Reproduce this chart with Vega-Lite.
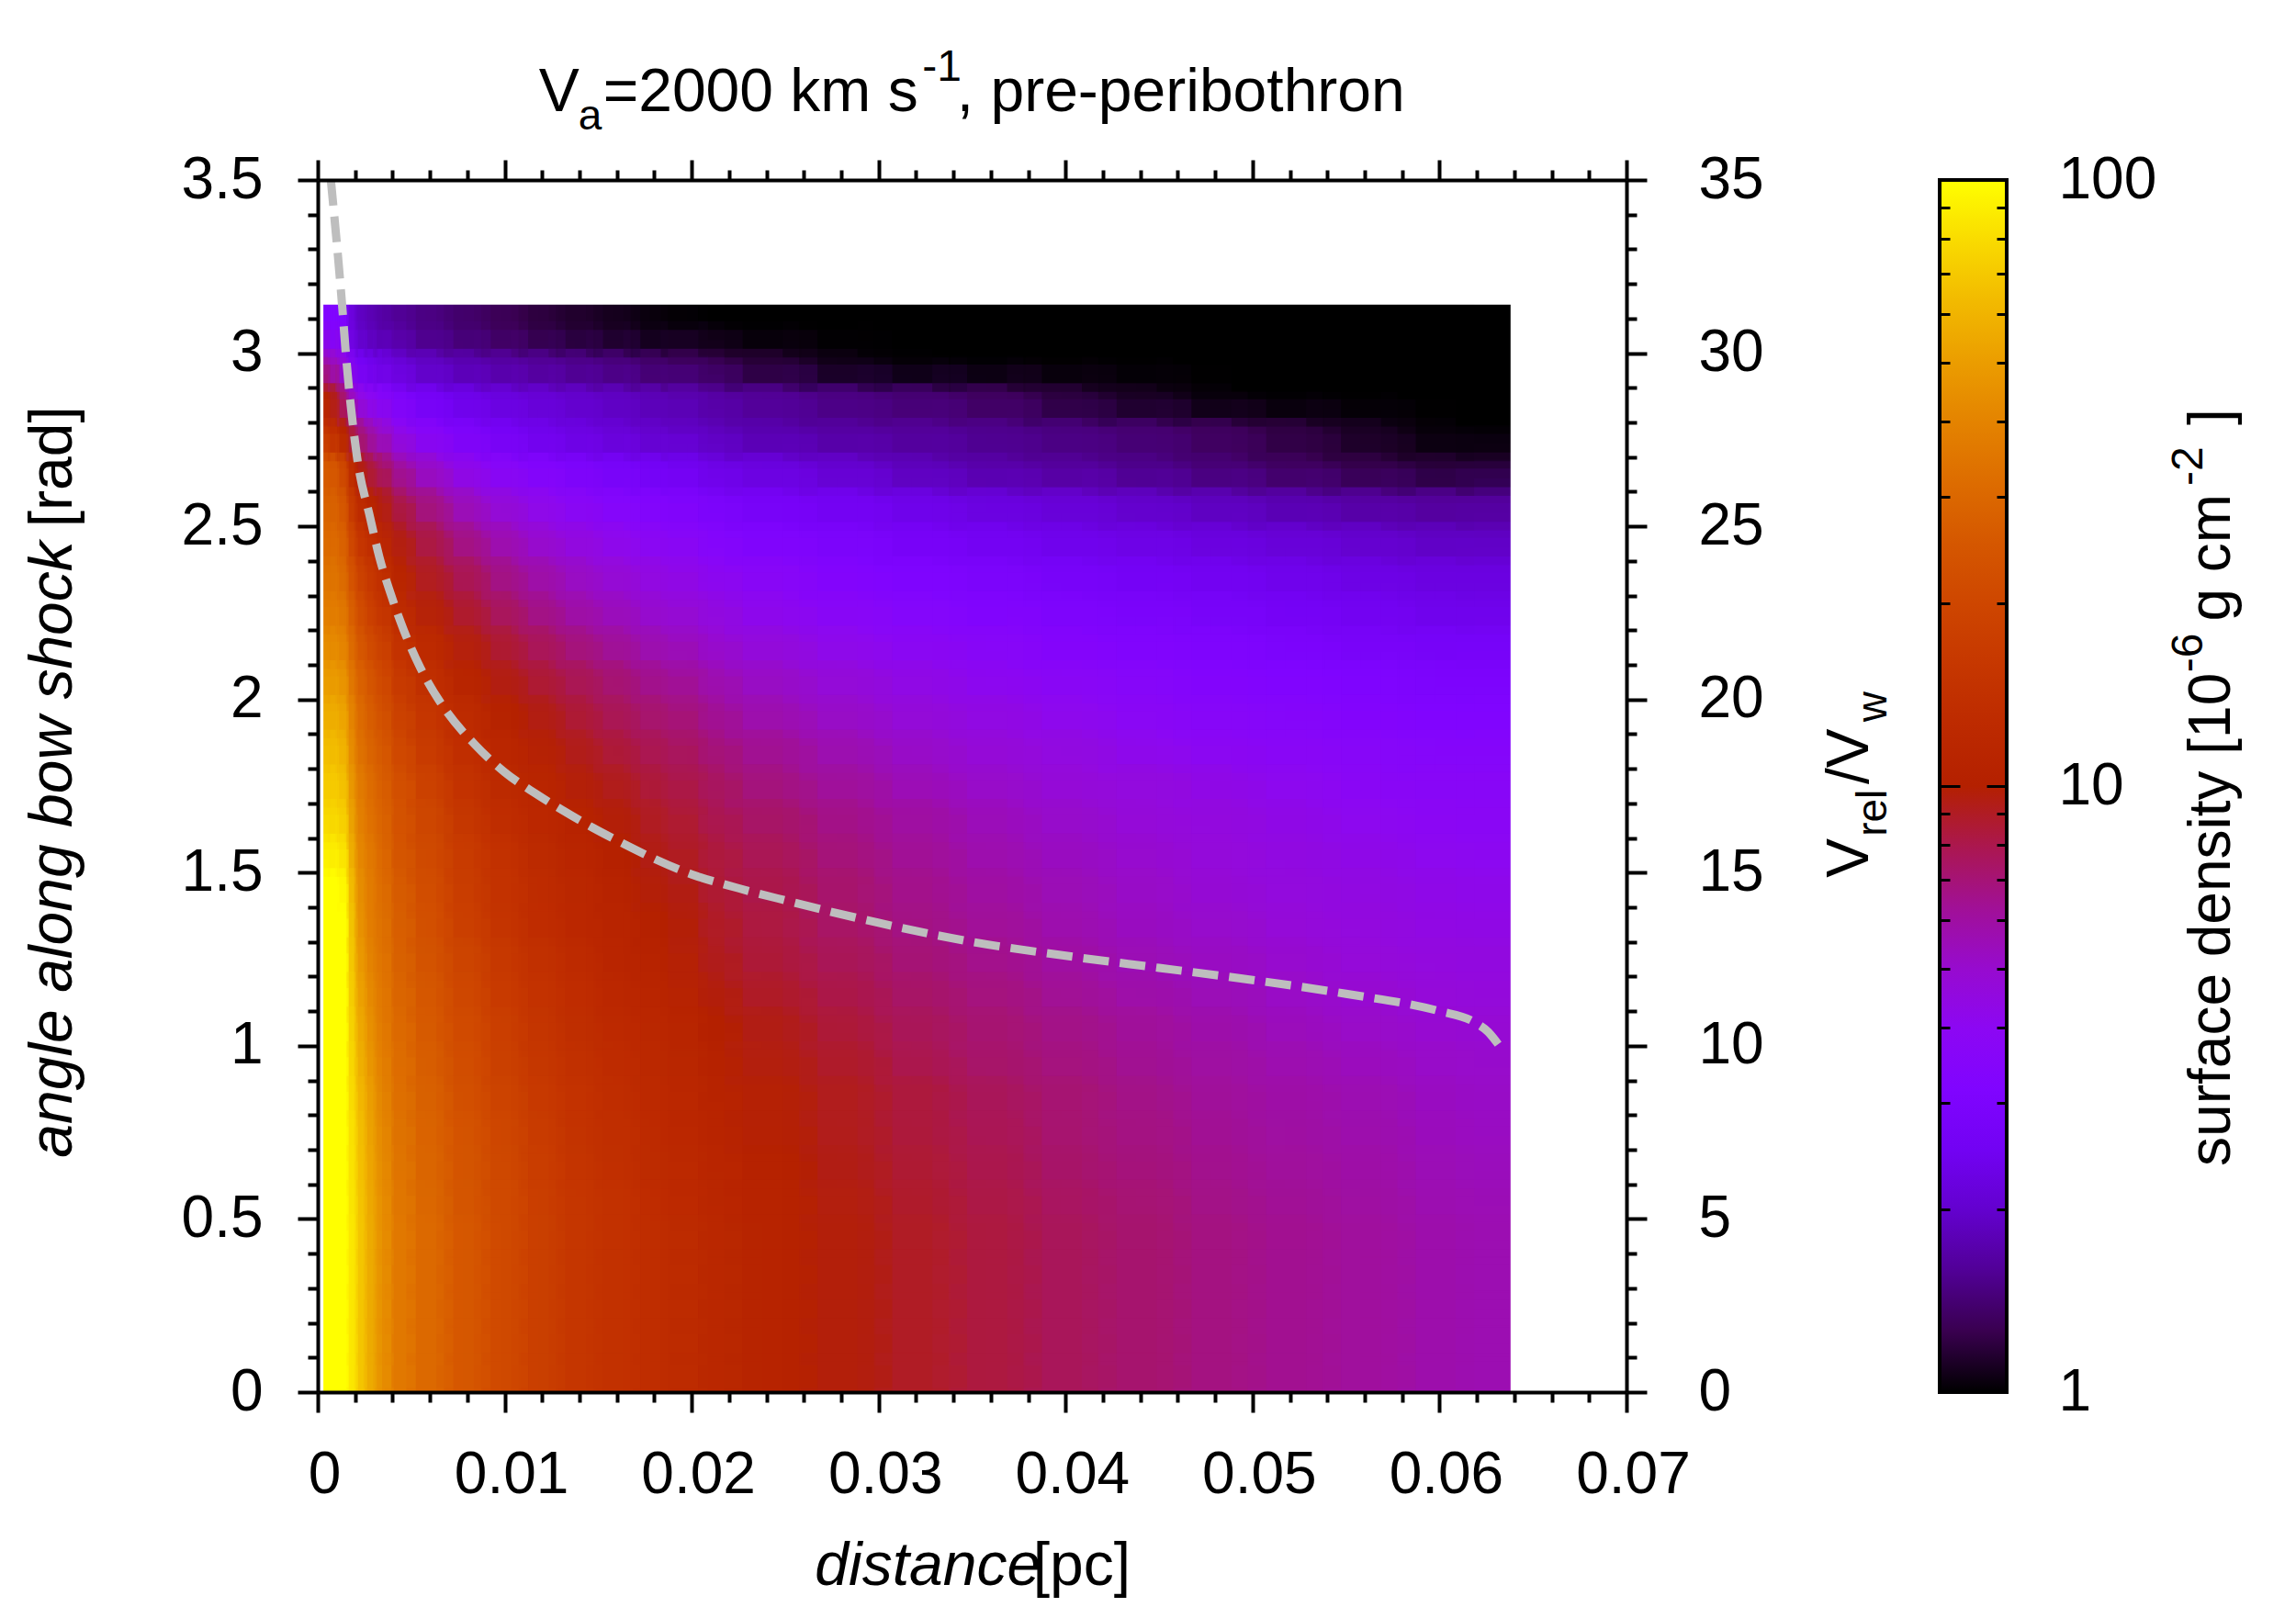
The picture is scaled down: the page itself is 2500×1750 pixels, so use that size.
{"$schema":"https://vega.github.io/schema/vega-lite/v6.json","background":"white","padding":{"left":24,"top":50,"right":0,"bottom":0},
"config":{"view":{"stroke":null},"axis":{"grid":false,"labelFont":"Liberation Sans","labelFontSize":64,"labelColor":"black","tickColor":"black","domainColor":"black","tickWidth":4,"domainWidth":4,"labelOverlap":false,"labelFlush":false,"labelBound":false,"title":null},"text":{"font":"Liberation Sans","fontSize":64,"color":"black","align":"left","baseline":"alphabetic"}},
"datasets":{
"fine":[
{"d":0.00055,"a":0,"s":2},{"d":0.00105,"a":0,"s":2},{"d":0.00155,"a":0,"s":2},{"d":0.00205,"a":0,"s":1.9},{"d":0.00255,"a":0,"s":1.8},{"d":0.00305,"a":0,"s":1.72},{"d":0.00355,"a":0,"s":1.65},
{"d":0.00055,"a":0.09,"s":2},{"d":0.00105,"a":0.09,"s":2},{"d":0.00155,"a":0.09,"s":2},{"d":0.00205,"a":0.09,"s":1.9},{"d":0.00255,"a":0.09,"s":1.8},{"d":0.00305,"a":0.09,"s":1.72},{"d":0.00355,"a":0.09,"s":1.65},
{"d":0.00055,"a":0.19,"s":2},{"d":0.00105,"a":0.19,"s":2},{"d":0.00155,"a":0.19,"s":2},{"d":0.00205,"a":0.19,"s":1.9},{"d":0.00255,"a":0.19,"s":1.8},{"d":0.00305,"a":0.19,"s":1.72},{"d":0.00355,"a":0.19,"s":1.65},
{"d":0.00055,"a":0.29,"s":2},{"d":0.00105,"a":0.29,"s":2},{"d":0.00155,"a":0.29,"s":2},{"d":0.00205,"a":0.29,"s":1.9},{"d":0.00255,"a":0.29,"s":1.8},{"d":0.00305,"a":0.29,"s":1.72},{"d":0.00355,"a":0.29,"s":1.65},
{"d":0.00055,"a":0.39,"s":2},{"d":0.00105,"a":0.39,"s":2},{"d":0.00155,"a":0.39,"s":2},{"d":0.00205,"a":0.39,"s":1.9},{"d":0.00255,"a":0.39,"s":1.8},{"d":0.00305,"a":0.39,"s":1.72},{"d":0.00355,"a":0.39,"s":1.65},
{"d":0.00055,"a":0.49,"s":2},{"d":0.00105,"a":0.49,"s":2},{"d":0.00155,"a":0.49,"s":2},{"d":0.00205,"a":0.49,"s":1.9},{"d":0.00255,"a":0.49,"s":1.8},{"d":0.00305,"a":0.49,"s":1.72},{"d":0.00355,"a":0.49,"s":1.65},
{"d":0.00055,"a":0.59,"s":2},{"d":0.00105,"a":0.59,"s":2},{"d":0.00155,"a":0.59,"s":2},{"d":0.00205,"a":0.59,"s":1.89},{"d":0.00255,"a":0.59,"s":1.79},{"d":0.00305,"a":0.59,"s":1.71},{"d":0.00355,"a":0.59,"s":1.64},
{"d":0.00055,"a":0.69,"s":2},{"d":0.00105,"a":0.69,"s":2},{"d":0.00155,"a":0.69,"s":2},{"d":0.00205,"a":0.69,"s":1.88},{"d":0.00255,"a":0.69,"s":1.78},{"d":0.00305,"a":0.69,"s":1.7},{"d":0.00355,"a":0.69,"s":1.63},
{"d":0.00055,"a":0.79,"s":2},{"d":0.00105,"a":0.79,"s":2},{"d":0.00155,"a":0.79,"s":2},{"d":0.00205,"a":0.79,"s":1.87},{"d":0.00255,"a":0.79,"s":1.77},{"d":0.00305,"a":0.79,"s":1.69},{"d":0.00355,"a":0.79,"s":1.62},
{"d":0.00055,"a":0.89,"s":2},{"d":0.00105,"a":0.89,"s":2},{"d":0.00155,"a":0.89,"s":2},{"d":0.00205,"a":0.89,"s":1.84},{"d":0.00255,"a":0.89,"s":1.75},{"d":0.00305,"a":0.89,"s":1.67},{"d":0.00355,"a":0.89,"s":1.6},
{"d":0.00055,"a":0.99,"s":2},{"d":0.00105,"a":0.99,"s":2},{"d":0.00155,"a":0.99,"s":2},{"d":0.00205,"a":0.99,"s":1.82},{"d":0.00255,"a":0.99,"s":1.72},{"d":0.00305,"a":0.99,"s":1.64},{"d":0.00355,"a":0.99,"s":1.58},
{"d":0.00055,"a":1.09,"s":2},{"d":0.00105,"a":1.09,"s":2},{"d":0.00155,"a":1.09,"s":2},{"d":0.00205,"a":1.09,"s":1.8},{"d":0.00255,"a":1.09,"s":1.7},{"d":0.00305,"a":1.09,"s":1.62},{"d":0.00355,"a":1.09,"s":1.56},
{"d":0.00055,"a":1.19,"s":2},{"d":0.00105,"a":1.19,"s":2},{"d":0.00155,"a":1.19,"s":2},{"d":0.00205,"a":1.19,"s":1.77},{"d":0.00255,"a":1.19,"s":1.67},{"d":0.00305,"a":1.19,"s":1.59},{"d":0.00355,"a":1.19,"s":1.55},
{"d":0.00055,"a":1.29,"s":2},{"d":0.00105,"a":1.29,"s":2},{"d":0.00155,"a":1.29,"s":2},{"d":0.00205,"a":1.29,"s":1.74},{"d":0.00255,"a":1.29,"s":1.64},{"d":0.00305,"a":1.29,"s":1.57},{"d":0.00355,"a":1.29,"s":1.53},
{"d":0.00055,"a":1.39,"s":2},{"d":0.00105,"a":1.39,"s":2},{"d":0.00155,"a":1.39,"s":2},{"d":0.00205,"a":1.39,"s":1.72},{"d":0.00255,"a":1.39,"s":1.61},{"d":0.00305,"a":1.39,"s":1.55},{"d":0.00355,"a":1.39,"s":1.52},
{"d":0.00055,"a":1.49,"s":2},{"d":0.00105,"a":1.49,"s":2},{"d":0.00155,"a":1.49,"s":1.96},{"d":0.00205,"a":1.49,"s":1.7},{"d":0.00255,"a":1.49,"s":1.6},{"d":0.00305,"a":1.49,"s":1.55},{"d":0.00355,"a":1.49,"s":1.5},
{"d":0.00055,"a":1.59,"s":1.94},{"d":0.00105,"a":1.59,"s":1.94},{"d":0.00155,"a":1.59,"s":1.9},{"d":0.00205,"a":1.59,"s":1.66},{"d":0.00255,"a":1.59,"s":1.58},{"d":0.00305,"a":1.59,"s":1.53},{"d":0.00355,"a":1.59,"s":1.48},
{"d":0.00055,"a":1.69,"s":1.88},{"d":0.00105,"a":1.69,"s":1.88},{"d":0.00155,"a":1.69,"s":1.84},{"d":0.00205,"a":1.69,"s":1.63},{"d":0.00255,"a":1.69,"s":1.55},{"d":0.00305,"a":1.69,"s":1.5},{"d":0.00355,"a":1.69,"s":1.46},
{"d":0.00055,"a":1.79,"s":1.84},{"d":0.00105,"a":1.79,"s":1.84},{"d":0.00155,"a":1.79,"s":1.8},{"d":0.00205,"a":1.79,"s":1.6},{"d":0.00255,"a":1.79,"s":1.53},{"d":0.00305,"a":1.79,"s":1.48},{"d":0.00355,"a":1.79,"s":1.43},
{"d":0.00055,"a":1.89,"s":1.8},{"d":0.00105,"a":1.89,"s":1.8},{"d":0.00155,"a":1.89,"s":1.75},{"d":0.00205,"a":1.89,"s":1.56},{"d":0.00255,"a":1.89,"s":1.49},{"d":0.00305,"a":1.89,"s":1.44},{"d":0.00355,"a":1.89,"s":1.4},
{"d":0.00055,"a":1.99,"s":1.74},{"d":0.00105,"a":1.99,"s":1.74},{"d":0.00155,"a":1.99,"s":1.7},{"d":0.00205,"a":1.99,"s":1.53},{"d":0.00255,"a":1.99,"s":1.46},{"d":0.00305,"a":1.99,"s":1.4},{"d":0.00355,"a":1.99,"s":1.36},
{"d":0.00055,"a":2.09,"s":1.68},{"d":0.00105,"a":2.09,"s":1.68},{"d":0.00155,"a":2.09,"s":1.64},{"d":0.00205,"a":2.09,"s":1.48},{"d":0.00255,"a":2.09,"s":1.42},{"d":0.00305,"a":2.09,"s":1.36},{"d":0.00355,"a":2.09,"s":1.31},
{"d":0.00055,"a":2.19,"s":1.62},{"d":0.00105,"a":2.19,"s":1.62},{"d":0.00155,"a":2.19,"s":1.58},{"d":0.00205,"a":2.19,"s":1.43},{"d":0.00255,"a":2.19,"s":1.36},{"d":0.00305,"a":2.19,"s":1.3},{"d":0.00355,"a":2.19,"s":1.25},
{"d":0.00055,"a":2.29,"s":1.56},{"d":0.00105,"a":2.29,"s":1.56},{"d":0.00155,"a":2.29,"s":1.52},{"d":0.00205,"a":2.29,"s":1.37},{"d":0.00255,"a":2.29,"s":1.29},{"d":0.00305,"a":2.29,"s":1.22},{"d":0.00355,"a":2.29,"s":1.18},
{"d":0.00055,"a":2.39,"s":1.52},{"d":0.00105,"a":2.39,"s":1.52},{"d":0.00155,"a":2.39,"s":1.46},{"d":0.00205,"a":2.39,"s":1.31},{"d":0.00255,"a":2.39,"s":1.23},{"d":0.00305,"a":2.39,"s":1.17},{"d":0.00355,"a":2.39,"s":1.13},
{"d":0.00055,"a":2.49,"s":1.48},{"d":0.00105,"a":2.49,"s":1.48},{"d":0.00155,"a":2.49,"s":1.42},{"d":0.00205,"a":2.49,"s":1.22},{"d":0.00255,"a":2.49,"s":1.15},{"d":0.00305,"a":2.49,"s":1.1},{"d":0.00355,"a":2.49,"s":1.05},
{"d":0.00055,"a":2.59,"s":1.44},{"d":0.00105,"a":2.59,"s":1.44},{"d":0.00155,"a":2.59,"s":1.36},{"d":0.00205,"a":2.59,"s":1.13},{"d":0.00255,"a":2.59,"s":1.07},{"d":0.00305,"a":2.59,"s":1.02},{"d":0.00355,"a":2.59,"s":0.98},
{"d":0.00055,"a":2.69,"s":1.4},{"d":0.00105,"a":2.69,"s":1.38},{"d":0.00155,"a":2.69,"s":1.25},{"d":0.00205,"a":2.69,"s":1.02},{"d":0.00255,"a":2.69,"s":0.96},{"d":0.00305,"a":2.69,"s":0.9},{"d":0.00355,"a":2.69,"s":0.86},
{"d":0.00055,"a":2.79,"s":1.14},{"d":0.00105,"a":2.79,"s":1.1},{"d":0.00155,"a":2.79,"s":1},{"d":0.00205,"a":2.79,"s":0.87},{"d":0.00255,"a":2.79,"s":0.79},{"d":0.00305,"a":2.79,"s":0.73},{"d":0.00355,"a":2.79,"s":0.69},
{"d":0.00055,"a":2.89,"s":1},{"d":0.00105,"a":2.89,"s":0.95},{"d":0.00155,"a":2.89,"s":0.8},{"d":0.00205,"a":2.89,"s":0.66},{"d":0.00255,"a":2.89,"s":0.6},{"d":0.00305,"a":2.89,"s":0.56},{"d":0.00355,"a":2.89,"s":0.53},
{"d":0.00055,"a":2.99,"s":0.72},{"d":0.00105,"a":2.99,"s":0.7},{"d":0.00155,"a":2.99,"s":0.62},{"d":0.00205,"a":2.99,"s":0.44},{"d":0.00255,"a":2.99,"s":0.4},{"d":0.00305,"a":2.99,"s":0.37},{"d":0.00355,"a":2.99,"s":0.35},
{"d":0.00055,"a":3.09,"s":0.5},{"d":0.00105,"a":3.09,"s":0.5},{"d":0.00155,"a":3.09,"s":0.48},{"d":0.00205,"a":3.09,"s":0.3},{"d":0.00255,"a":3.09,"s":0.27},{"d":0.00305,"a":3.09,"s":0.25},{"d":0.00355,"a":3.09,"s":0.23}],
"mid":[
{"d":0.0048,"a":0,"s":1.55},{"d":0.0068,"a":0,"s":1.45},{"d":0.0088,"a":0,"s":1.37},{"d":0.0108,"a":0,"s":1.3},{"d":0.0128,"a":0,"s":1.23},{"d":0.0148,"a":0,"s":1.18},{"d":0.0168,"a":0,"s":1.15},{"d":0.0188,"a":0,"s":1.11},
{"d":0.0048,"a":0.09,"s":1.55},{"d":0.0068,"a":0.09,"s":1.45},{"d":0.0088,"a":0.09,"s":1.37},{"d":0.0108,"a":0.09,"s":1.3},{"d":0.0128,"a":0.09,"s":1.23},{"d":0.0148,"a":0.09,"s":1.18},{"d":0.0168,"a":0.09,"s":1.15},{"d":0.0188,"a":0.09,"s":1.11},
{"d":0.0048,"a":0.19,"s":1.55},{"d":0.0068,"a":0.19,"s":1.45},{"d":0.0088,"a":0.19,"s":1.37},{"d":0.0108,"a":0.19,"s":1.3},{"d":0.0128,"a":0.19,"s":1.23},{"d":0.0148,"a":0.19,"s":1.18},{"d":0.0168,"a":0.19,"s":1.15},{"d":0.0188,"a":0.19,"s":1.11},
{"d":0.0048,"a":0.29,"s":1.55},{"d":0.0068,"a":0.29,"s":1.45},{"d":0.0088,"a":0.29,"s":1.37},{"d":0.0108,"a":0.29,"s":1.3},{"d":0.0128,"a":0.29,"s":1.23},{"d":0.0148,"a":0.29,"s":1.18},{"d":0.0168,"a":0.29,"s":1.15},{"d":0.0188,"a":0.29,"s":1.11},
{"d":0.0048,"a":0.39,"s":1.55},{"d":0.0068,"a":0.39,"s":1.45},{"d":0.0088,"a":0.39,"s":1.37},{"d":0.0108,"a":0.39,"s":1.3},{"d":0.0128,"a":0.39,"s":1.23},{"d":0.0148,"a":0.39,"s":1.18},{"d":0.0168,"a":0.39,"s":1.15},{"d":0.0188,"a":0.39,"s":1.11},
{"d":0.0048,"a":0.49,"s":1.55},{"d":0.0068,"a":0.49,"s":1.45},{"d":0.0088,"a":0.49,"s":1.37},{"d":0.0108,"a":0.49,"s":1.3},{"d":0.0128,"a":0.49,"s":1.23},{"d":0.0148,"a":0.49,"s":1.18},{"d":0.0168,"a":0.49,"s":1.15},{"d":0.0188,"a":0.49,"s":1.11},
{"d":0.0048,"a":0.59,"s":1.54},{"d":0.0068,"a":0.59,"s":1.44},{"d":0.0088,"a":0.59,"s":1.36},{"d":0.0108,"a":0.59,"s":1.29},{"d":0.0128,"a":0.59,"s":1.22},{"d":0.0148,"a":0.59,"s":1.17},{"d":0.0168,"a":0.59,"s":1.14},{"d":0.0188,"a":0.59,"s":1.1},
{"d":0.0048,"a":0.69,"s":1.53},{"d":0.0068,"a":0.69,"s":1.43},{"d":0.0088,"a":0.69,"s":1.35},{"d":0.0108,"a":0.69,"s":1.28},{"d":0.0128,"a":0.69,"s":1.21},{"d":0.0148,"a":0.69,"s":1.16},{"d":0.0168,"a":0.69,"s":1.13},{"d":0.0188,"a":0.69,"s":1.09},
{"d":0.0048,"a":0.79,"s":1.52},{"d":0.0068,"a":0.79,"s":1.42},{"d":0.0088,"a":0.79,"s":1.34},{"d":0.0108,"a":0.79,"s":1.27},{"d":0.0128,"a":0.79,"s":1.2},{"d":0.0148,"a":0.79,"s":1.15},{"d":0.0168,"a":0.79,"s":1.12},{"d":0.0188,"a":0.79,"s":1.08},
{"d":0.0048,"a":0.89,"s":1.51},{"d":0.0068,"a":0.89,"s":1.41},{"d":0.0088,"a":0.89,"s":1.32},{"d":0.0108,"a":0.89,"s":1.25},{"d":0.0128,"a":0.89,"s":1.19},{"d":0.0148,"a":0.89,"s":1.15},{"d":0.0168,"a":0.89,"s":1.11},{"d":0.0188,"a":0.89,"s":1.08},
{"d":0.0048,"a":0.99,"s":1.5},{"d":0.0068,"a":0.99,"s":1.39},{"d":0.0088,"a":0.99,"s":1.31},{"d":0.0108,"a":0.99,"s":1.23},{"d":0.0128,"a":0.99,"s":1.18},{"d":0.0148,"a":0.99,"s":1.13},{"d":0.0168,"a":0.99,"s":1.1},{"d":0.0188,"a":0.99,"s":1.07},
{"d":0.0048,"a":1.09,"s":1.48},{"d":0.0068,"a":1.09,"s":1.37},{"d":0.0088,"a":1.09,"s":1.29},{"d":0.0108,"a":1.09,"s":1.21},{"d":0.0128,"a":1.09,"s":1.16},{"d":0.0148,"a":1.09,"s":1.11},{"d":0.0168,"a":1.09,"s":1.08},{"d":0.0188,"a":1.09,"s":1.05},
{"d":0.0048,"a":1.19,"s":1.46},{"d":0.0068,"a":1.19,"s":1.35},{"d":0.0088,"a":1.19,"s":1.27},{"d":0.0108,"a":1.19,"s":1.19},{"d":0.0128,"a":1.19,"s":1.14},{"d":0.0148,"a":1.19,"s":1.1},{"d":0.0168,"a":1.19,"s":1.06},{"d":0.0188,"a":1.19,"s":1.03},
{"d":0.0048,"a":1.29,"s":1.44},{"d":0.0068,"a":1.29,"s":1.33},{"d":0.0088,"a":1.29,"s":1.25},{"d":0.0108,"a":1.29,"s":1.17},{"d":0.0128,"a":1.29,"s":1.12},{"d":0.0148,"a":1.29,"s":1.08},{"d":0.0168,"a":1.29,"s":1.04},{"d":0.0188,"a":1.29,"s":1.01},
{"d":0.0048,"a":1.39,"s":1.43},{"d":0.0068,"a":1.39,"s":1.31},{"d":0.0088,"a":1.39,"s":1.22},{"d":0.0108,"a":1.39,"s":1.15},{"d":0.0128,"a":1.39,"s":1.1},{"d":0.0148,"a":1.39,"s":1.06},{"d":0.0168,"a":1.39,"s":1.03},{"d":0.0188,"a":1.39,"s":1},
{"d":0.0048,"a":1.49,"s":1.41},{"d":0.0068,"a":1.49,"s":1.29},{"d":0.0088,"a":1.49,"s":1.2},{"d":0.0108,"a":1.49,"s":1.14},{"d":0.0128,"a":1.49,"s":1.09},{"d":0.0148,"a":1.49,"s":1.05},{"d":0.0168,"a":1.49,"s":1.01},{"d":0.0188,"a":1.49,"s":0.98},
{"d":0.0048,"a":1.59,"s":1.38},{"d":0.0068,"a":1.59,"s":1.28},{"d":0.0088,"a":1.59,"s":1.19},{"d":0.0108,"a":1.59,"s":1.12},{"d":0.0128,"a":1.59,"s":1.07},{"d":0.0148,"a":1.59,"s":1.03},{"d":0.0168,"a":1.59,"s":1},{"d":0.0188,"a":1.59,"s":0.96},
{"d":0.0048,"a":1.69,"s":1.37},{"d":0.0068,"a":1.69,"s":1.25},{"d":0.0088,"a":1.69,"s":1.16},{"d":0.0108,"a":1.69,"s":1.1},{"d":0.0128,"a":1.69,"s":1.05},{"d":0.0148,"a":1.69,"s":1.01},{"d":0.0168,"a":1.69,"s":0.98},{"d":0.0188,"a":1.69,"s":0.94},
{"d":0.0048,"a":1.79,"s":1.34},{"d":0.0068,"a":1.79,"s":1.21},{"d":0.0088,"a":1.79,"s":1.13},{"d":0.0108,"a":1.79,"s":1.07},{"d":0.0128,"a":1.79,"s":1.03},{"d":0.0148,"a":1.79,"s":0.98},{"d":0.0168,"a":1.79,"s":0.95},{"d":0.0188,"a":1.79,"s":0.91},
{"d":0.0048,"a":1.89,"s":1.3},{"d":0.0068,"a":1.89,"s":1.18},{"d":0.0088,"a":1.89,"s":1.1},{"d":0.0108,"a":1.89,"s":1.04},{"d":0.0128,"a":1.89,"s":0.99},{"d":0.0148,"a":1.89,"s":0.95},{"d":0.0168,"a":1.89,"s":0.91},{"d":0.0188,"a":1.89,"s":0.88},
{"d":0.0048,"a":1.99,"s":1.25},{"d":0.0068,"a":1.99,"s":1.14},{"d":0.0088,"a":1.99,"s":1.07},{"d":0.0108,"a":1.99,"s":1},{"d":0.0128,"a":1.99,"s":0.96},{"d":0.0148,"a":1.99,"s":0.91},{"d":0.0168,"a":1.99,"s":0.87},{"d":0.0188,"a":1.99,"s":0.84},
{"d":0.0048,"a":2.09,"s":1.2},{"d":0.0068,"a":2.09,"s":1.09},{"d":0.0088,"a":2.09,"s":1.02},{"d":0.0108,"a":2.09,"s":0.96},{"d":0.0128,"a":2.09,"s":0.91},{"d":0.0148,"a":2.09,"s":0.87},{"d":0.0168,"a":2.09,"s":0.83},{"d":0.0188,"a":2.09,"s":0.79},
{"d":0.0048,"a":2.19,"s":1.15},{"d":0.0068,"a":2.19,"s":1.05},{"d":0.0088,"a":2.19,"s":0.97},{"d":0.0108,"a":2.19,"s":0.91},{"d":0.0128,"a":2.19,"s":0.86},{"d":0.0148,"a":2.19,"s":0.81},{"d":0.0168,"a":2.19,"s":0.77},{"d":0.0188,"a":2.19,"s":0.73},
{"d":0.0048,"a":2.29,"s":1.09},{"d":0.0068,"a":2.29,"s":0.98},{"d":0.0088,"a":2.29,"s":0.91},{"d":0.0108,"a":2.29,"s":0.85},{"d":0.0128,"a":2.29,"s":0.79},{"d":0.0148,"a":2.29,"s":0.74},{"d":0.0168,"a":2.29,"s":0.71},{"d":0.0188,"a":2.29,"s":0.67},
{"d":0.0048,"a":2.39,"s":1.04},{"d":0.0068,"a":2.39,"s":0.93},{"d":0.0088,"a":2.39,"s":0.86},{"d":0.0108,"a":2.39,"s":0.79},{"d":0.0128,"a":2.39,"s":0.74},{"d":0.0148,"a":2.39,"s":0.69},{"d":0.0168,"a":2.39,"s":0.66},{"d":0.0188,"a":2.39,"s":0.63},
{"d":0.0048,"a":2.49,"s":0.97},{"d":0.0068,"a":2.49,"s":0.87},{"d":0.0088,"a":2.49,"s":0.78},{"d":0.0108,"a":2.49,"s":0.72},{"d":0.0128,"a":2.49,"s":0.66},{"d":0.0148,"a":2.49,"s":0.63},{"d":0.0168,"a":2.49,"s":0.59},{"d":0.0188,"a":2.49,"s":0.56},
{"d":0.0048,"a":2.59,"s":0.89},{"d":0.0068,"a":2.59,"s":0.78},{"d":0.0088,"a":2.59,"s":0.69},{"d":0.0108,"a":2.59,"s":0.64},{"d":0.0128,"a":2.59,"s":0.59},{"d":0.0148,"a":2.59,"s":0.55},{"d":0.0168,"a":2.59,"s":0.52},{"d":0.0188,"a":2.59,"s":0.49},
{"d":0.0048,"a":2.69,"s":0.76},{"d":0.0068,"a":2.69,"s":0.65},{"d":0.0088,"a":2.69,"s":0.58},{"d":0.0108,"a":2.69,"s":0.53},{"d":0.0128,"a":2.69,"s":0.49},{"d":0.0148,"a":2.69,"s":0.46},{"d":0.0168,"a":2.69,"s":0.43},{"d":0.0188,"a":2.69,"s":0.4},
{"d":0.0048,"a":2.79,"s":0.6},{"d":0.0068,"a":2.79,"s":0.51},{"d":0.0088,"a":2.79,"s":0.46},{"d":0.0108,"a":2.79,"s":0.41},{"d":0.0128,"a":2.79,"s":0.37},{"d":0.0148,"a":2.79,"s":0.34},{"d":0.0168,"a":2.79,"s":0.31},{"d":0.0188,"a":2.79,"s":0.29},
{"d":0.0048,"a":2.89,"s":0.47},{"d":0.0068,"a":2.89,"s":0.4},{"d":0.0088,"a":2.89,"s":0.36},{"d":0.0108,"a":2.89,"s":0.33},{"d":0.0128,"a":2.89,"s":0.31},{"d":0.0148,"a":2.89,"s":0.29},{"d":0.0168,"a":2.89,"s":0.27},{"d":0.0188,"a":2.89,"s":0.25},
{"d":0.0048,"a":2.99,"s":0.31},{"d":0.0068,"a":2.99,"s":0.26},{"d":0.0088,"a":2.99,"s":0.23},{"d":0.0108,"a":2.99,"s":0.21},{"d":0.0128,"a":2.99,"s":0.19},{"d":0.0148,"a":2.99,"s":0.17},{"d":0.0168,"a":2.99,"s":0.15},{"d":0.0188,"a":2.99,"s":0.12},
{"d":0.0048,"a":3.09,"s":0.2},{"d":0.0068,"a":3.09,"s":0.16},{"d":0.0088,"a":3.09,"s":0.13},{"d":0.0108,"a":3.09,"s":0.1},{"d":0.0128,"a":3.09,"s":0.07},{"d":0.0148,"a":3.09,"s":0.05},{"d":0.0168,"a":3.09,"s":0.03},{"d":0.0188,"a":3.09,"s":0.01}],
"coarse":[
{"d":0.0218,"a":0,"s":1.07},{"d":0.0258,"a":0,"s":1.02},{"d":0.0298,"a":0,"s":0.98},{"d":0.0338,"a":0,"s":0.94},{"d":0.0378,"a":0,"s":0.91},{"d":0.0418,"a":0,"s":0.87},{"d":0.0458,"a":0,"s":0.85},{"d":0.0498,"a":0,"s":0.82},{"d":0.0538,"a":0,"s":0.8},{"d":0.0578,"a":0,"s":0.78},{"d":0.0618,"a":0,"s":0.75},
{"d":0.0218,"a":0.09,"s":1.07},{"d":0.0258,"a":0.09,"s":1.02},{"d":0.0298,"a":0.09,"s":0.98},{"d":0.0338,"a":0.09,"s":0.94},{"d":0.0378,"a":0.09,"s":0.91},{"d":0.0418,"a":0.09,"s":0.87},{"d":0.0458,"a":0.09,"s":0.85},{"d":0.0498,"a":0.09,"s":0.82},{"d":0.0538,"a":0.09,"s":0.8},{"d":0.0578,"a":0.09,"s":0.78},{"d":0.0618,"a":0.09,"s":0.75},
{"d":0.0218,"a":0.19,"s":1.07},{"d":0.0258,"a":0.19,"s":1.02},{"d":0.0298,"a":0.19,"s":0.98},{"d":0.0338,"a":0.19,"s":0.94},{"d":0.0378,"a":0.19,"s":0.91},{"d":0.0418,"a":0.19,"s":0.87},{"d":0.0458,"a":0.19,"s":0.85},{"d":0.0498,"a":0.19,"s":0.82},{"d":0.0538,"a":0.19,"s":0.8},{"d":0.0578,"a":0.19,"s":0.78},{"d":0.0618,"a":0.19,"s":0.75},
{"d":0.0218,"a":0.29,"s":1.07},{"d":0.0258,"a":0.29,"s":1.02},{"d":0.0298,"a":0.29,"s":0.98},{"d":0.0338,"a":0.29,"s":0.94},{"d":0.0378,"a":0.29,"s":0.91},{"d":0.0418,"a":0.29,"s":0.87},{"d":0.0458,"a":0.29,"s":0.85},{"d":0.0498,"a":0.29,"s":0.82},{"d":0.0538,"a":0.29,"s":0.8},{"d":0.0578,"a":0.29,"s":0.78},{"d":0.0618,"a":0.29,"s":0.75},
{"d":0.0218,"a":0.39,"s":1.07},{"d":0.0258,"a":0.39,"s":1.02},{"d":0.0298,"a":0.39,"s":0.98},{"d":0.0338,"a":0.39,"s":0.94},{"d":0.0378,"a":0.39,"s":0.91},{"d":0.0418,"a":0.39,"s":0.87},{"d":0.0458,"a":0.39,"s":0.85},{"d":0.0498,"a":0.39,"s":0.82},{"d":0.0538,"a":0.39,"s":0.8},{"d":0.0578,"a":0.39,"s":0.78},{"d":0.0618,"a":0.39,"s":0.75},
{"d":0.0218,"a":0.49,"s":1.07},{"d":0.0258,"a":0.49,"s":1.02},{"d":0.0298,"a":0.49,"s":0.98},{"d":0.0338,"a":0.49,"s":0.94},{"d":0.0378,"a":0.49,"s":0.91},{"d":0.0418,"a":0.49,"s":0.87},{"d":0.0458,"a":0.49,"s":0.85},{"d":0.0498,"a":0.49,"s":0.82},{"d":0.0538,"a":0.49,"s":0.8},{"d":0.0578,"a":0.49,"s":0.78},{"d":0.0618,"a":0.49,"s":0.75},
{"d":0.0218,"a":0.59,"s":1.06},{"d":0.0258,"a":0.59,"s":1.01},{"d":0.0298,"a":0.59,"s":0.97},{"d":0.0338,"a":0.59,"s":0.93},{"d":0.0378,"a":0.59,"s":0.9},{"d":0.0418,"a":0.59,"s":0.86},{"d":0.0458,"a":0.59,"s":0.84},{"d":0.0498,"a":0.59,"s":0.81},{"d":0.0538,"a":0.59,"s":0.79},{"d":0.0578,"a":0.59,"s":0.77},{"d":0.0618,"a":0.59,"s":0.74},
{"d":0.0218,"a":0.69,"s":1.05},{"d":0.0258,"a":0.69,"s":1},{"d":0.0298,"a":0.69,"s":0.96},{"d":0.0338,"a":0.69,"s":0.92},{"d":0.0378,"a":0.69,"s":0.89},{"d":0.0418,"a":0.69,"s":0.85},{"d":0.0458,"a":0.69,"s":0.83},{"d":0.0498,"a":0.69,"s":0.8},{"d":0.0538,"a":0.69,"s":0.78},{"d":0.0578,"a":0.69,"s":0.76},{"d":0.0618,"a":0.69,"s":0.73},
{"d":0.0218,"a":0.79,"s":1.04},{"d":0.0258,"a":0.79,"s":0.99},{"d":0.0298,"a":0.79,"s":0.95},{"d":0.0338,"a":0.79,"s":0.91},{"d":0.0378,"a":0.79,"s":0.88},{"d":0.0418,"a":0.79,"s":0.84},{"d":0.0458,"a":0.79,"s":0.82},{"d":0.0498,"a":0.79,"s":0.79},{"d":0.0538,"a":0.79,"s":0.77},{"d":0.0578,"a":0.79,"s":0.75},{"d":0.0618,"a":0.79,"s":0.72},
{"d":0.0218,"a":0.89,"s":1.03},{"d":0.0258,"a":0.89,"s":0.99},{"d":0.0298,"a":0.89,"s":0.95},{"d":0.0338,"a":0.89,"s":0.91},{"d":0.0378,"a":0.89,"s":0.87},{"d":0.0418,"a":0.89,"s":0.84},{"d":0.0458,"a":0.89,"s":0.81},{"d":0.0498,"a":0.89,"s":0.78},{"d":0.0538,"a":0.89,"s":0.76},{"d":0.0578,"a":0.89,"s":0.74},{"d":0.0618,"a":0.89,"s":0.71},
{"d":0.0218,"a":0.99,"s":1.02},{"d":0.0258,"a":0.99,"s":0.97},{"d":0.0298,"a":0.99,"s":0.93},{"d":0.0338,"a":0.99,"s":0.88},{"d":0.0378,"a":0.99,"s":0.85},{"d":0.0418,"a":0.99,"s":0.82},{"d":0.0458,"a":0.99,"s":0.79},{"d":0.0498,"a":0.99,"s":0.77},{"d":0.0538,"a":0.99,"s":0.74},{"d":0.0578,"a":0.99,"s":0.72},{"d":0.0618,"a":0.99,"s":0.7},
{"d":0.0218,"a":1.09,"s":1},{"d":0.0258,"a":1.09,"s":0.96},{"d":0.0298,"a":1.09,"s":0.91},{"d":0.0338,"a":1.09,"s":0.87},{"d":0.0378,"a":1.09,"s":0.84},{"d":0.0418,"a":1.09,"s":0.81},{"d":0.0458,"a":1.09,"s":0.78},{"d":0.0498,"a":1.09,"s":0.75},{"d":0.0538,"a":1.09,"s":0.72},{"d":0.0578,"a":1.09,"s":0.7},{"d":0.0618,"a":1.09,"s":0.68},
{"d":0.0218,"a":1.19,"s":0.98},{"d":0.0258,"a":1.19,"s":0.93},{"d":0.0298,"a":1.19,"s":0.89},{"d":0.0338,"a":1.19,"s":0.85},{"d":0.0378,"a":1.19,"s":0.82},{"d":0.0418,"a":1.19,"s":0.78},{"d":0.0458,"a":1.19,"s":0.75},{"d":0.0498,"a":1.19,"s":0.73},{"d":0.0538,"a":1.19,"s":0.7},{"d":0.0578,"a":1.19,"s":0.68},{"d":0.0618,"a":1.19,"s":0.66},
{"d":0.0218,"a":1.29,"s":0.96},{"d":0.0258,"a":1.29,"s":0.91},{"d":0.0298,"a":1.29,"s":0.87},{"d":0.0338,"a":1.29,"s":0.83},{"d":0.0378,"a":1.29,"s":0.8},{"d":0.0418,"a":1.29,"s":0.76},{"d":0.0458,"a":1.29,"s":0.73},{"d":0.0498,"a":1.29,"s":0.71},{"d":0.0538,"a":1.29,"s":0.68},{"d":0.0578,"a":1.29,"s":0.66},{"d":0.0618,"a":1.29,"s":0.65},
{"d":0.0218,"a":1.39,"s":0.95},{"d":0.0258,"a":1.39,"s":0.9},{"d":0.0298,"a":1.39,"s":0.85},{"d":0.0338,"a":1.39,"s":0.81},{"d":0.0378,"a":1.39,"s":0.78},{"d":0.0418,"a":1.39,"s":0.74},{"d":0.0458,"a":1.39,"s":0.71},{"d":0.0498,"a":1.39,"s":0.69},{"d":0.0538,"a":1.39,"s":0.66},{"d":0.0578,"a":1.39,"s":0.65},{"d":0.0618,"a":1.39,"s":0.63},
{"d":0.0218,"a":1.49,"s":0.93},{"d":0.0258,"a":1.49,"s":0.89},{"d":0.0298,"a":1.49,"s":0.84},{"d":0.0338,"a":1.49,"s":0.8},{"d":0.0378,"a":1.49,"s":0.76},{"d":0.0418,"a":1.49,"s":0.73},{"d":0.0458,"a":1.49,"s":0.7},{"d":0.0498,"a":1.49,"s":0.67},{"d":0.0538,"a":1.49,"s":0.65},{"d":0.0578,"a":1.49,"s":0.64},{"d":0.0618,"a":1.49,"s":0.62},
{"d":0.0218,"a":1.59,"s":0.92},{"d":0.0258,"a":1.59,"s":0.87},{"d":0.0298,"a":1.59,"s":0.82},{"d":0.0338,"a":1.59,"s":0.78},{"d":0.0378,"a":1.59,"s":0.74},{"d":0.0418,"a":1.59,"s":0.71},{"d":0.0458,"a":1.59,"s":0.68},{"d":0.0498,"a":1.59,"s":0.66},{"d":0.0538,"a":1.59,"s":0.64},{"d":0.0578,"a":1.59,"s":0.62},{"d":0.0618,"a":1.59,"s":0.6},
{"d":0.0218,"a":1.69,"s":0.89},{"d":0.0258,"a":1.69,"s":0.85},{"d":0.0298,"a":1.69,"s":0.8},{"d":0.0338,"a":1.69,"s":0.76},{"d":0.0378,"a":1.69,"s":0.72},{"d":0.0418,"a":1.69,"s":0.69},{"d":0.0458,"a":1.69,"s":0.66},{"d":0.0498,"a":1.69,"s":0.65},{"d":0.0538,"a":1.69,"s":0.62},{"d":0.0578,"a":1.69,"s":0.6},{"d":0.0618,"a":1.69,"s":0.58},
{"d":0.0218,"a":1.79,"s":0.87},{"d":0.0258,"a":1.79,"s":0.81},{"d":0.0298,"a":1.79,"s":0.77},{"d":0.0338,"a":1.79,"s":0.72},{"d":0.0378,"a":1.79,"s":0.69},{"d":0.0418,"a":1.79,"s":0.66},{"d":0.0458,"a":1.79,"s":0.65},{"d":0.0498,"a":1.79,"s":0.62},{"d":0.0538,"a":1.79,"s":0.59},{"d":0.0578,"a":1.79,"s":0.57},{"d":0.0618,"a":1.79,"s":0.56},
{"d":0.0218,"a":1.89,"s":0.83},{"d":0.0258,"a":1.89,"s":0.78},{"d":0.0298,"a":1.89,"s":0.73},{"d":0.0338,"a":1.89,"s":0.69},{"d":0.0378,"a":1.89,"s":0.66},{"d":0.0418,"a":1.89,"s":0.64},{"d":0.0458,"a":1.89,"s":0.6},{"d":0.0498,"a":1.89,"s":0.58},{"d":0.0538,"a":1.89,"s":0.56},{"d":0.0578,"a":1.89,"s":0.55},{"d":0.0618,"a":1.89,"s":0.53},
{"d":0.0218,"a":1.99,"s":0.79},{"d":0.0258,"a":1.99,"s":0.73},{"d":0.0298,"a":1.99,"s":0.69},{"d":0.0338,"a":1.99,"s":0.65},{"d":0.0378,"a":1.99,"s":0.63},{"d":0.0418,"a":1.99,"s":0.6},{"d":0.0458,"a":1.99,"s":0.57},{"d":0.0498,"a":1.99,"s":0.55},{"d":0.0538,"a":1.99,"s":0.53},{"d":0.0578,"a":1.99,"s":0.51},{"d":0.0618,"a":1.99,"s":0.5},
{"d":0.0218,"a":2.09,"s":0.74},{"d":0.0258,"a":2.09,"s":0.69},{"d":0.0298,"a":2.09,"s":0.65},{"d":0.0338,"a":2.09,"s":0.62},{"d":0.0378,"a":2.09,"s":0.58},{"d":0.0418,"a":2.09,"s":0.56},{"d":0.0458,"a":2.09,"s":0.53},{"d":0.0498,"a":2.09,"s":0.51},{"d":0.0538,"a":2.09,"s":0.5},{"d":0.0578,"a":2.09,"s":0.48},{"d":0.0618,"a":2.09,"s":0.47},
{"d":0.0218,"a":2.19,"s":0.68},{"d":0.0258,"a":2.19,"s":0.64},{"d":0.0298,"a":2.19,"s":0.6},{"d":0.0338,"a":2.19,"s":0.57},{"d":0.0378,"a":2.19,"s":0.54},{"d":0.0418,"a":2.19,"s":0.51},{"d":0.0458,"a":2.19,"s":0.49},{"d":0.0498,"a":2.19,"s":0.48},{"d":0.0538,"a":2.19,"s":0.46},{"d":0.0578,"a":2.19,"s":0.44},{"d":0.0618,"a":2.19,"s":0.43},
{"d":0.0218,"a":2.29,"s":0.64},{"d":0.0258,"a":2.29,"s":0.58},{"d":0.0298,"a":2.29,"s":0.54},{"d":0.0338,"a":2.29,"s":0.52},{"d":0.0378,"a":2.29,"s":0.49},{"d":0.0418,"a":2.29,"s":0.47},{"d":0.0458,"a":2.29,"s":0.45},{"d":0.0498,"a":2.29,"s":0.43},{"d":0.0538,"a":2.29,"s":0.41},{"d":0.0578,"a":2.29,"s":0.39},{"d":0.0618,"a":2.29,"s":0.37},
{"d":0.0218,"a":2.39,"s":0.58},{"d":0.0258,"a":2.39,"s":0.54},{"d":0.0298,"a":2.39,"s":0.5},{"d":0.0338,"a":2.39,"s":0.48},{"d":0.0378,"a":2.39,"s":0.45},{"d":0.0418,"a":2.39,"s":0.43},{"d":0.0458,"a":2.39,"s":0.41},{"d":0.0498,"a":2.39,"s":0.39},{"d":0.0538,"a":2.39,"s":0.37},{"d":0.0578,"a":2.39,"s":0.35},{"d":0.0618,"a":2.39,"s":0.34},
{"d":0.0218,"a":2.49,"s":0.52},{"d":0.0258,"a":2.49,"s":0.48},{"d":0.0298,"a":2.49,"s":0.45},{"d":0.0338,"a":2.49,"s":0.42},{"d":0.0378,"a":2.49,"s":0.39},{"d":0.0418,"a":2.49,"s":0.37},{"d":0.0458,"a":2.49,"s":0.35},{"d":0.0498,"a":2.49,"s":0.33},{"d":0.0538,"a":2.49,"s":0.31},{"d":0.0578,"a":2.49,"s":0.29},{"d":0.0618,"a":2.49,"s":0.27},
{"d":0.0218,"a":2.59,"s":0.46},{"d":0.0258,"a":2.59,"s":0.42},{"d":0.0298,"a":2.59,"s":0.39},{"d":0.0338,"a":2.59,"s":0.36},{"d":0.0378,"a":2.59,"s":0.33},{"d":0.0418,"a":2.59,"s":0.31},{"d":0.0458,"a":2.59,"s":0.28},{"d":0.0498,"a":2.59,"s":0.26},{"d":0.0538,"a":2.59,"s":0.23},{"d":0.0578,"a":2.59,"s":0.21},{"d":0.0618,"a":2.59,"s":0.2},
{"d":0.0218,"a":2.69,"s":0.36},{"d":0.0258,"a":2.69,"s":0.33},{"d":0.0298,"a":2.69,"s":0.29},{"d":0.0338,"a":2.69,"s":0.25},{"d":0.0378,"a":2.69,"s":0.22},{"d":0.0418,"a":2.69,"s":0.2},{"d":0.0458,"a":2.69,"s":0.17},{"d":0.0498,"a":2.69,"s":0.14},{"d":0.0538,"a":2.69,"s":0.11},{"d":0.0578,"a":2.69,"s":0.08},{"d":0.0618,"a":2.69,"s":0.06},
{"d":0.0218,"a":2.79,"s":0.26},{"d":0.0258,"a":2.79,"s":0.23},{"d":0.0298,"a":2.79,"s":0.21},{"d":0.0338,"a":2.79,"s":0.2},{"d":0.0378,"a":2.79,"s":0.18},{"d":0.0418,"a":2.79,"s":0.16},{"d":0.0458,"a":2.79,"s":0.14},{"d":0.0498,"a":2.79,"s":0.11},{"d":0.0538,"a":2.79,"s":0.07},{"d":0.0578,"a":2.79,"s":0.03},{"d":0.0618,"a":2.79,"s":0},
{"d":0.0218,"a":2.89,"s":0.22},{"d":0.0258,"a":2.89,"s":0.19},{"d":0.0298,"a":2.89,"s":0.16},{"d":0.0338,"a":2.89,"s":0.14},{"d":0.0378,"a":2.89,"s":0.11},{"d":0.0418,"a":2.89,"s":0.06},{"d":0.0458,"a":2.89,"s":0.03},{"d":0.0498,"a":2.89,"s":0},{"d":0.0538,"a":2.89,"s":0},{"d":0.0578,"a":2.89,"s":0},{"d":0.0618,"a":2.89,"s":0},
{"d":0.0218,"a":2.99,"s":0.09},{"d":0.0258,"a":2.99,"s":0.05},{"d":0.0298,"a":2.99,"s":0.01},{"d":0.0338,"a":2.99,"s":0},{"d":0.0378,"a":2.99,"s":0},{"d":0.0418,"a":2.99,"s":0},{"d":0.0458,"a":2.99,"s":0},{"d":0.0498,"a":2.99,"s":0},{"d":0.0538,"a":2.99,"s":0},{"d":0.0578,"a":2.99,"s":0},{"d":0.0618,"a":2.99,"s":0},
{"d":0.0218,"a":3.09,"s":0},{"d":0.0258,"a":3.09,"s":0},{"d":0.0298,"a":3.09,"s":0},{"d":0.0338,"a":3.09,"s":0},{"d":0.0378,"a":3.09,"s":0},{"d":0.0418,"a":3.09,"s":0},{"d":0.0458,"a":3.09,"s":0},{"d":0.0498,"a":3.09,"s":0},{"d":0.0538,"a":3.09,"s":0},{"d":0.0578,"a":3.09,"s":0},{"d":0.0618,"a":3.09,"s":0}],
"curve":[{"d":0.0007,"a":3.5},{"d":0.0013,"a":3.14},{"d":0.0015,"a":3},{"d":0.0021,"a":2.7},{"d":0.0028,"a":2.525},{"d":0.0033,"a":2.41},{"d":0.0039,"a":2.305},{"d":0.0046,"a":2.2},{"d":0.0055,"a":2.09},{"d":0.0067,"a":1.98},{"d":0.0084,"a":1.87},{"d":0.01,"a":1.79},{"d":0.0116,"a":1.73},{"d":0.0131,"a":1.68},{"d":0.0147,"a":1.63},{"d":0.0163,"a":1.585},{"d":0.018,"a":1.54},{"d":0.02,"a":1.495},{"d":0.0225,"a":1.455},{"d":0.025,"a":1.42},{"d":0.03,"a":1.355},{"d":0.035,"a":1.3},{"d":0.04,"a":1.26},{"d":0.045,"a":1.225},{"d":0.05,"a":1.19},{"d":0.055,"a":1.15},{"d":0.06,"a":1.1},{"d":0.0618,"a":1.07},{"d":0.0626,"a":1.04},{"d":0.0632,"a":1}],
"bar":[{"lo":1,"hi":100}]},
"hconcat":[{"width":1425,"height":1320,
"encoding":{"color":{"field":"s","type":"quantitative","legend":null,"scale":{"domain":[0,0.1,0.2,0.3,0.4,0.5,0.6,0.7,0.8,0.9,1,1.1,1.2,1.3,1.4,1.5,1.6,1.7,1.8,1.9,2],"range":["#000000","#39004f","#510096","#6301ce","#7202f3","#8004ff","#8c07f3","#970bce","#a11096","#ab174f","#b42000","#bd2a00","#c63700","#ce4600","#d55700","#dd6c00","#e48300","#eb9d00","#f2ba00","#f9db00","#ffff00"],"clamp":true,"interpolate":"rgb"}}},
"layer":[
{"data":{"name":"fine"},"mark":{"type":"rect","width":11,"height":39,"clip":true},"encoding":{"x":{"field":"d","type":"quantitative","scale":{"domain":[0,0.07],"nice":false},"axis":{"orient":"bottom","zindex":1,"domain":true,"values":[0,0.01,0.02,0.03,0.04,0.05,0.06,0.07],"format":"~g","tickSize":22,"labelPadding":36,"labelOffset":7}},"y":{"field":"a","type":"quantitative","scale":{"domain":[0,3.5],"nice":false},"axis":{"orient":"left","zindex":1,"domain":true,"values":[0,0.5,1,1.5,2,2.5,3,3.5],"format":"~g","tickSize":22,"labelPadding":38}}}},
{"data":{"name":"mid"},"mark":{"type":"rect","width":42,"height":39,"clip":true},"encoding":{"x":{"field":"d","type":"quantitative","axis":{"orient":"bottom","zindex":1,"domain":false,"labels":false,"tickSize":11,"values":[0.002,0.004,0.006,0.008,0.012,0.014,0.016,0.018,0.022,0.024,0.026,0.028,0.032,0.034,0.036,0.038,0.042,0.044,0.046,0.048,0.052,0.054,0.056,0.058,0.062,0.064,0.066,0.068]}},"y":{"field":"a","type":"quantitative","axis":{"orient":"left","zindex":1,"domain":false,"labels":false,"tickSize":11,"values":[0.1,0.2,0.3,0.4,0.6,0.7,0.8,0.9,1.1,1.2,1.3,1.4,1.6,1.7,1.8,1.9,2.1,2.2,2.3,2.4,2.6,2.7,2.8,2.9,3.1,3.2,3.3,3.4]}}}},
{"data":{"name":"coarse"},"mark":{"type":"rect","width":83,"height":39,"clip":true},"encoding":{"x":{"field":"d","type":"quantitative","axis":{"orient":"top","zindex":1,"domain":true,"labels":false,"tickSize":22,"values":[0,0.01,0.02,0.03,0.04,0.05,0.06,0.07]}},"y":{"field":"a","type":"quantitative","axis":{"orient":"right","zindex":1,"domain":true,"labels":false,"tickSize":11,"values":[0.1,0.2,0.3,0.4,0.6,0.7,0.8,0.9,1.1,1.2,1.3,1.4,1.6,1.7,1.8,1.9,2.1,2.2,2.3,2.4,2.6,2.7,2.8,2.9,3.1,3.2,3.3,3.4]}}}},
{"data":{"name":"coarse"},"mark":{"type":"rect","width":165,"height":77,"opacity":0.5,"clip":true},"encoding":{"x":{"field":"d","type":"quantitative","axis":null},"y":{"field":"a","type":"quantitative","axis":null}}},
{"data":{"name":"mid"},"mark":{"type":"rect","width":84,"height":77,"opacity":0.5,"clip":true},"encoding":{"x":{"field":"d","type":"quantitative","axis":null},"y":{"field":"a","type":"quantitative","axis":null}}},
{"data":{"name":"fine"},"mark":{"type":"rect","width":21,"height":77,"opacity":0.5,"clip":true},"encoding":{"x":{"field":"d","type":"quantitative","axis":null},"y":{"field":"a","type":"quantitative","axis":null}}},
{"data":{"name":"coarse"},"mark":{"type":"rect","width":125,"height":58,"opacity":0.5,"clip":true},"encoding":{"x":{"field":"d","type":"quantitative","axis":null},"y":{"field":"a","type":"quantitative","axis":null}}},
{"data":{"name":"mid"},"mark":{"type":"rect","width":63,"height":58,"opacity":0.5,"clip":true},"encoding":{"x":{"field":"d","type":"quantitative","axis":null},"y":{"field":"a","type":"quantitative","axis":null}}},
{"data":{"name":"fine"},"mark":{"type":"rect","width":16,"height":58,"opacity":0.5,"clip":true},"encoding":{"x":{"field":"d","type":"quantitative","axis":null},"y":{"field":"a","type":"quantitative","axis":null}}},
{"data":{"name":"bar"},"mark":{"type":"rect","clip":true},"encoding":{"color":{"value":"white"},"x":{"datum":0,"axis":null},"x2":{"datum":0.07},"y":{"datum":3.14,"axis":null},"y2":{"datum":3.5}}},
{"data":{"name":"bar"},"mark":{"type":"rect","clip":true},"encoding":{"color":{"value":"white"},"x":{"datum":0.0638,"axis":null},"x2":{"datum":0.07},"y":{"datum":0,"axis":null},"y2":{"datum":3.5}}},
{"data":{"name":"bar"},"mark":{"type":"rect","clip":true},"encoding":{"color":{"value":"white"},"x":{"datum":0,"axis":null},"x2":{"datum":0.0003},"y":{"datum":0,"axis":null},"y2":{"datum":3.5}}},
{"data":{"name":"curve"},"mark":{"type":"line","stroke":"#bebebe","strokeWidth":9,"strokeDash":[28,12],"clip":true,"interpolate":"monotone"},"encoding":{"color":{"value":"#bebebe"},"x":{"field":"d","type":"quantitative","axis":{"orient":"top","zindex":1,"domain":false,"labels":false,"tickSize":11,"values":[0.002,0.004,0.006,0.008,0.012,0.014,0.016,0.018,0.022,0.024,0.026,0.028,0.032,0.034,0.036,0.038,0.042,0.044,0.046,0.048,0.052,0.054,0.056,0.058,0.062,0.064,0.066,0.068]}},"y":{"field":"a","type":"quantitative","axis":{"orient":"right","zindex":1,"domain":false,"tickSize":22,"labelPadding":56,"values":[0,0.5,1,1.5,2,2.5,3,3.5],"labelExpr":"format(datum.value*10,'d')"}}}},
{"data":{"name":"bar"},"mark":{"type":"text","text":"V","fontSize":66},"encoding":{"color":{"value":"black"},"x":{"datum":0.01183,"axis":null},"y":{"datum":3.698,"axis":null}}},
{"data":{"name":"bar"},"mark":{"type":"text","text":"a","fontSize":46},"encoding":{"color":{"value":"black"},"x":{"datum":0.01394,"axis":null},"y":{"datum":3.645,"axis":null}}},
{"data":{"name":"bar"},"mark":{"type":"text","text":"=2000 km s","fontSize":66},"encoding":{"color":{"value":"black"},"x":{"datum":0.01526,"axis":null},"y":{"datum":3.698,"axis":null}}},
{"data":{"name":"bar"},"mark":{"type":"text","text":"-1","fontSize":48},"encoding":{"color":{"value":"black"},"x":{"datum":0.03233,"axis":null},"y":{"datum":3.7855,"axis":null}}},
{"data":{"name":"bar"},"mark":{"type":"text","text":", pre-peribothron","fontSize":66},"encoding":{"color":{"value":"black"},"x":{"datum":0.03418,"axis":null},"y":{"datum":3.698,"axis":null}}},
{"data":{"name":"bar"},"mark":{"type":"text","text":"distance","fontStyle":"italic","fontSize":66},"encoding":{"color":{"value":"black"},"x":{"datum":0.02659,"axis":null},"y":{"datum":-0.5578,"axis":null}}},
{"data":{"name":"bar"},"mark":{"type":"text","text":"[pc]","fontSize":66},"encoding":{"color":{"value":"black"},"x":{"datum":0.03825,"axis":null},"y":{"datum":-0.5578,"axis":null}}},
{"data":{"name":"bar"},"mark":{"type":"text","text":"angle along bow shock","fontStyle":"italic","angle":270,"fontSize":66},"encoding":{"color":{"value":"black"},"x":{"datum":-0.01317,"axis":null},"y":{"datum":0.677,"axis":null}}},
{"data":{"name":"bar"},"mark":{"type":"text","text":"[rad]","angle":270,"fontSize":66},"encoding":{"color":{"value":"black"},"x":{"datum":-0.01317,"axis":null},"y":{"datum":2.497,"axis":null}}},
{"data":{"name":"bar"},"mark":{"type":"text","text":"V","angle":270},"encoding":{"color":{"value":"black"},"x":{"datum":0.08294,"axis":null},"y":{"datum":1.4857,"axis":null}}},
{"data":{"name":"bar"},"mark":{"type":"text","text":"rel","fontSize":46,"angle":270},"encoding":{"color":{"value":"black"},"x":{"datum":0.08388,"axis":null},"y":{"datum":1.6046,"axis":null}}},
{"data":{"name":"bar"},"mark":{"type":"text","text":"/V","angle":270},"encoding":{"color":{"value":"black"},"x":{"datum":0.08294,"axis":null},"y":{"datum":1.7553,"axis":null}}},
{"data":{"name":"bar"},"mark":{"type":"text","text":"w","fontSize":46,"angle":270},"encoding":{"color":{"value":"black"},"x":{"datum":0.08388,"axis":null},"y":{"datum":1.935,"axis":null}}}
],
"resolve":{"axis":{"x":"independent","y":"independent"}}},
{"width":73,"height":1320,
"layer":[
{"data":{"name":"bar"},"mark":{"type":"rect","stroke":"black","strokeWidth":4,"fill":{"gradient":"linear","x1":0,"y1":1,"x2":0,"y2":0,"stops":[{"offset":0,"color":"#000000"},{"offset":0.05,"color":"#39004f"},{"offset":0.1,"color":"#510096"},{"offset":0.15,"color":"#6301ce"},{"offset":0.2,"color":"#7202f3"},{"offset":0.25,"color":"#8004ff"},{"offset":0.3,"color":"#8c07f3"},{"offset":0.35,"color":"#970bce"},{"offset":0.4,"color":"#a11096"},{"offset":0.45,"color":"#ab174f"},{"offset":0.5,"color":"#b42000"},{"offset":0.55,"color":"#bd2a00"},{"offset":0.6,"color":"#c63700"},{"offset":0.65,"color":"#ce4600"},{"offset":0.7,"color":"#d55700"},{"offset":0.75,"color":"#dd6c00"},{"offset":0.8,"color":"#e48300"},{"offset":0.85,"color":"#eb9d00"},{"offset":0.9,"color":"#f2ba00"},{"offset":0.95,"color":"#f9db00"},{"offset":1,"color":"#ffff00"}]}},"encoding":{"x":{"datum":0,"scale":{"domain":[0,1],"nice":false},"axis":null},"x2":{"datum":1},"y":{"field":"lo","type":"quantitative","scale":{"type":"log","domain":[1,100],"nice":false},"axis":{"orient":"left","zindex":1,"domain":false,"labels":false,"tickSize":22,"offset":-22,"tickWidth":3,"values":[10]}},"y2":{"field":"hi"}}},
{"data":{"name":"bar"},"mark":{"type":"rect","opacity":0},"encoding":{"x":{"datum":0,"axis":null},"x2":{"datum":1},"y":{"field":"lo","type":"quantitative","axis":{"orient":"left","zindex":1,"domain":false,"labels":false,"tickSize":11,"offset":-11,"tickWidth":3,"values":[2,3,4,5,6,7,8,9,20,30,40,50,60,70,80,90]}},"y2":{"field":"hi"}}},
{"data":{"name":"bar"},"mark":{"type":"rect","opacity":0},"encoding":{"x":{"datum":0,"axis":null},"x2":{"datum":1},"y":{"field":"lo","type":"quantitative","axis":{"orient":"right","zindex":1,"domain":false,"labels":false,"tickSize":22,"offset":-22,"tickWidth":3,"values":[10]}},"y2":{"field":"hi"}}},
{"data":{"name":"bar"},"mark":{"type":"rect","opacity":0},"encoding":{"x":{"datum":0,"axis":null},"x2":{"datum":1},"y":{"field":"lo","type":"quantitative","axis":{"orient":"right","zindex":1,"domain":false,"labels":false,"tickSize":11,"offset":-11,"tickWidth":3,"values":[2,3,4,5,6,7,8,9,20,30,40,50,60,70,80,90]}},"y2":{"field":"hi"}}},
{"data":{"name":"bar"},"mark":{"type":"rect","opacity":0},"encoding":{"x":{"datum":0,"axis":null},"x2":{"datum":1},"y":{"field":"lo","type":"quantitative","axis":{"orient":"right","domain":false,"ticks":false,"labelPadding":56,"format":"d","values":[1,10,100]}},"y2":{"field":"hi"}}},
{"data":{"name":"bar"},"mark":{"type":"text","text":"surface density [10","angle":270},"encoding":{"x":{"datum":4.33,"axis":null},"y":{"datum":2.36,"axis":null}}},
{"data":{"name":"bar"},"mark":{"type":"text","text":"-6","fontSize":48,"angle":270},"encoding":{"x":{"datum":3.92,"axis":null},"y":{"datum":15.4,"axis":null}}},
{"data":{"name":"bar"},"mark":{"type":"text","text":"g cm","angle":270},"encoding":{"x":{"datum":4.33,"axis":null},"y":{"datum":18.7,"axis":null}}},
{"data":{"name":"bar"},"mark":{"type":"text","text":"-2","fontSize":48,"angle":270},"encoding":{"x":{"datum":3.92,"axis":null},"y":{"datum":31.3,"axis":null}}},
{"data":{"name":"bar"},"mark":{"type":"text","text":"]","angle":270},"encoding":{"x":{"datum":4.33,"axis":null},"y":{"datum":39.4,"axis":null}}}
],
"resolve":{"axis":{"y":"independent"}}}],
"spacing":341,"bounds":"flush"}
